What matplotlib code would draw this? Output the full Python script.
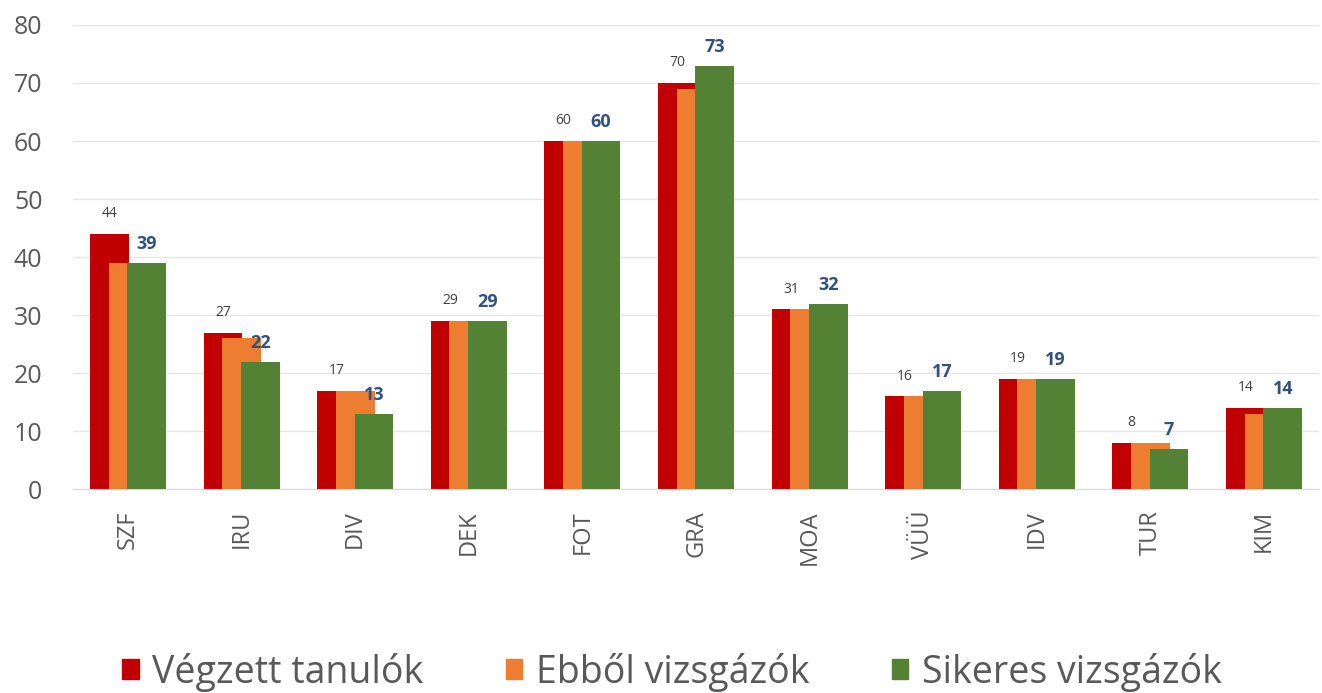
import numpy as np
import matplotlib.pyplot as plt
from matplotlib.patches import Patch

plt.rcParams['font.family'] = ['Open Sans', 'DejaVu Sans']

categories = ['SZF', 'IRU', 'DIV', 'DEK', 'FOT', 'GRA', 'MOA', 'VÜÜ', 'IDV', 'TUR', 'KIM']
vegzett = [44, 27, 17, 29, 60, 70, 31, 16, 19, 8, 14]
vizsgazok = [39, 26, 17, 29, 60, 69, 31, 16, 19, 8, 13]
sikeres = [39, 22, 13, 29, 60, 73, 32, 17, 19, 7, 14]
labels = ['Végzett tanulók', 'Ebből vizsgázók', 'Sikeres vizsgázók']
colors = ['#C00000', '#ED7D31', '#548235']

fig = plt.figure(figsize=(13.22, 6.93), dpi=100)
ax = fig.add_axes([73 / 1322, 0.294, 1246 / 1322, 0.67])

x = np.arange(len(categories))
w = 0.34
off = 0.165
ax.bar(x - off, vegzett, w, color=colors[0], zorder=2)
ax.bar(x, vizsgazok, w, color=colors[1], zorder=3)
ax.bar(x + off, sikeres, w, color=colors[2], zorder=4)

for i in range(len(categories)):
    ax.text(x[i] - off, vegzett[i] + 2.2, str(vegzett[i]), ha='center', va='bottom',
            fontsize=10, color='#404040')
    ax.text(x[i] + off, sikeres[i] + 1.7, str(sikeres[i]), ha='center', va='bottom',
            fontsize=13, fontweight='bold', color='#2F5080')

ax.set_ylim(0, 80)
ax.set_xlim(-0.484, len(categories) - 1 + 0.484)
ax.set_yticks(range(0, 81, 10))
ax.set_xticks(x)
ax.set_xticklabels(categories, rotation=90)
ax.tick_params(axis='y', labelsize=18, colors='#595959', length=0, pad=22)
ax.tick_params(axis='x', labelsize=17, colors='#595959', length=0, pad=15)
ax.grid(axis='y', color='#E6E6E6', linewidth=1, zorder=0)
for s in ['top', 'right', 'left']:
    ax.spines[s].set_visible(False)
ax.spines['bottom'].set_color('#D9D9D9')

handles = [Patch(color=c) for c in colors]
fig.legend(handles, labels, loc='center', bbox_to_anchor=(0.508, 0.03), ncol=3,
           frameon=False, fontsize=27, labelcolor='#595959', handlelength=0.45,
           handleheight=0.45, handletextpad=0.35, columnspacing=2.2)

fig.savefig('out.png', dpi=100, facecolor='white')
